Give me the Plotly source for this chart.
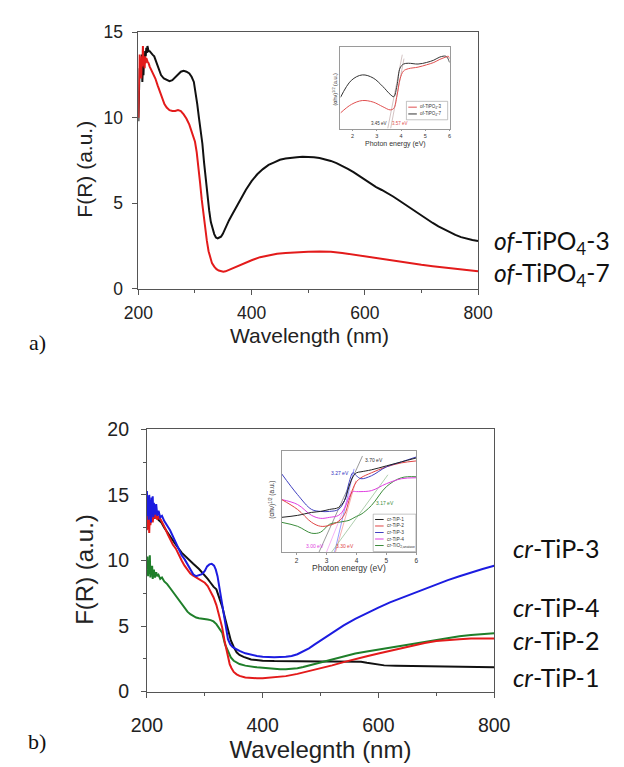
import plotly.graph_objects as go

W, H = 624, 767

# ---------------- panel a: of-TiPO4 (Kubelka-Munk) ----------------
wl_a3 = [200, 201, 202, 203, 204, 205, 206, 207, 208, 209, 210, 211, 212, 213, 214, 215, 216, 218, 220,
         222, 225, 228, 232, 236, 240, 245, 250, 255, 260, 265, 270, 275, 280, 285, 290, 294, 298, 301,
         304, 307, 310, 313, 316, 319, 322, 325, 328, 331, 334, 337, 340, 343, 346, 349, 352, 356, 360,
         365, 370, 380, 390, 400, 410, 420, 430, 440, 450, 460, 470, 480, 490, 500, 510, 520, 530, 540,
         550, 560, 570, 580, 590, 600, 610, 620, 630, 640, 650, 660, 670, 680, 690, 700, 710, 720, 730,
         740, 750, 760, 770, 780, 790, 800]
fr_a3 = [9.8, 11.9, 12.9, 12.4, 13.4, 12.6, 13.7, 12.1, 13.0, 12.5, 13.5, 13.2, 13.9, 13.6, 14.1, 13.8,
         14.2, 13.9, 13.9, 13.8, 13.7, 13.6, 13.2, 12.8, 12.5, 12.3, 12.2, 12.15, 12.2, 12.35, 12.55, 12.7,
         12.75, 12.7, 12.6, 12.4, 12.1, 11.5, 10.8, 10.0, 9.3, 8.5, 7.4, 6.4, 5.5, 4.6, 3.9, 3.5, 3.2, 3.0,
         2.95, 3.0, 3.05, 3.2, 3.45, 3.7, 4.0, 4.3, 4.6, 5.2, 5.8, 6.3, 6.7, 7.0, 7.25, 7.4, 7.55, 7.62,
         7.68, 7.7, 7.72, 7.72, 7.7, 7.65, 7.58, 7.48, 7.35, 7.2, 7.02, 6.82, 6.6, 6.38, 6.15, 5.95, 5.78,
         5.6, 5.4, 5.18, 4.95, 4.72, 4.5, 4.28, 4.06, 3.85, 3.65, 3.47, 3.3, 3.15, 3.02, 2.92, 2.85, 2.8]

wl_a7 = [200, 201, 202, 203, 204, 205, 206, 207, 208, 209, 210, 211, 212, 213, 214, 216, 218, 220, 223,
         226, 230, 234, 238, 242, 246, 250, 255, 260, 265, 270, 275, 280, 285, 290, 294, 297, 300, 303,
         306, 309, 312, 315, 318, 321, 324, 327, 330, 334, 338, 342, 346, 350, 354, 358, 365, 375, 385,
         400, 415, 430, 445, 460, 480, 500, 520, 540, 560, 580, 600, 620, 640, 660, 680, 700, 720, 740,
         760, 780, 800]
fr_a7 = [10.0, 12.3, 13.7, 12.6, 13.2, 12.3, 13.6, 13.0, 14.2, 13.1, 13.5, 12.9, 13.6, 13.2, 13.5, 13.3,
         13.2, 13.0, 12.8, 12.6, 12.3, 11.9, 11.5, 11.1, 10.8, 10.6, 10.45, 10.4, 10.4, 10.45, 10.4, 10.2,
         9.95, 9.6, 9.2, 8.9, 8.6, 8.0, 7.2, 6.2, 5.2, 4.3, 3.5, 2.8, 2.2, 1.8, 1.5, 1.3, 1.15, 1.07, 1.02,
         1.0, 1.02, 1.08, 1.18, 1.32, 1.47, 1.67, 1.85, 1.97, 2.05, 2.1, 2.15, 2.17, 2.18, 2.17, 2.1, 2.0,
         1.88, 1.76, 1.66, 1.57, 1.48, 1.4, 1.32, 1.24, 1.16, 1.08, 1.02]

# Tauc plot (inset a)
ev_a = [1.5, 1.95, 2.4, 2.85, 3.25, 3.55, 3.7, 3.83, 3.96, 4.1, 4.3, 4.7, 5.05, 5.35, 5.6, 5.85, 5.95, 6.0]
tauc_a3 = [0.20, 0.31, 0.36, 0.34, 0.28, 0.24, 0.26, 0.42, 0.64, 0.74, 0.77, 0.79, 0.82, 0.85, 0.89, 0.92, 0.93, 0.90]
tauc_a7 = [0.40, 0.62, 0.69, 0.65, 0.54, 0.44, 0.41, 0.55, 0.78, 0.83, 0.84, 0.83, 0.85, 0.88, 0.92, 0.93, 0.89, 0.85]
gap_a = [3.45, 3.57]
fit_a_top = [(4.05, 0.95), (4.12, 0.90)]

# ---------------- panel b: cr-TiP samples ----------------
wl_b1 = [200, 202, 204, 206, 208, 210, 213, 216, 220, 225, 230, 240, 250, 260, 270, 280, 290, 300, 305,
         310, 315, 320, 325, 330, 335, 340, 345, 350, 355, 360, 367, 380, 400, 420, 450, 480, 500, 520,
         540, 560, 570, 580, 590, 600, 610, 630, 650, 670, 700, 730, 760, 800]
fr_b1 = [13.0, 13.6, 13.1, 13.8, 13.3, 13.6, 13.2, 13.4, 13.1, 12.9, 12.5, 11.8, 11.2, 10.6, 10.15, 9.75,
         9.35, 8.9, 8.6, 8.3, 8.0, 7.8, 7.2, 6.5, 5.6, 4.7, 3.9, 3.4, 3.0, 2.8, 2.65, 2.45, 2.36, 2.33,
         2.3, 2.3, 2.3, 2.3, 2.3, 2.3, 2.28, 2.2, 2.12, 2.05, 2.0, 1.98, 1.96, 1.93, 1.93, 1.91, 1.89, 1.85]

wl_b2 = [200, 201, 202, 203, 204, 205, 206, 208, 210, 212, 214, 216, 218, 220, 224, 228, 232, 236, 240,
         245, 250, 255, 260, 265, 270, 275, 280, 285, 290, 295, 300, 305, 310, 315, 320, 325, 330, 334,
         337, 340, 343, 346, 350, 355, 360, 370, 380, 390, 400, 420, 440, 460, 480, 500, 520, 540, 560,
         580, 600, 620, 640, 660, 680, 700, 720, 740, 760, 780, 800]
fr_b2 = [12.3, 13.7, 12.4, 13.4, 12.1, 13.6, 12.7, 13.5, 12.9, 13.7, 13.2, 13.6, 13.1, 13.4, 13.1, 12.8,
         12.4, 12.0, 11.6, 11.2, 10.9, 10.4, 10.0, 9.6, 9.25, 9.0, 8.85, 8.7, 8.6, 8.45, 8.3, 8.05, 7.6,
         7.2, 6.6, 5.8, 4.9, 3.9, 3.3, 2.6, 2.1, 1.8, 1.5, 1.32, 1.2, 1.08, 1.04, 1.02, 1.02, 1.08, 1.18,
         1.35, 1.55, 1.78, 2.0, 2.25, 2.5, 2.7, 2.9, 3.1, 3.35, 3.55, 3.7, 3.85, 3.95, 4.0, 4.05, 4.05, 4.05]

wl_b3 = [200, 201, 202, 203, 204, 205, 206, 207, 208, 209, 210, 211, 212, 214, 216, 218, 220, 223, 226,
         230, 240, 250, 260, 265, 270, 275, 280, 285, 290, 295, 300, 304, 308, 312, 316, 319, 322, 325,
         328, 331, 334, 337, 340, 344, 348, 352, 360, 370, 380, 390, 400, 420, 440, 450, 460, 470, 480,
         490, 500, 520, 540, 560, 580, 600, 620, 640, 660, 680, 700, 720, 740, 760, 780, 800]
fr_b3 = [15.3, 13.4, 14.9, 13.1, 15.0, 13.7, 14.6, 12.9, 14.8, 13.5, 14.9, 13.3, 14.4, 13.5, 14.3, 13.4,
         13.8, 13.3, 13.4, 13.0, 12.3, 11.3, 10.4, 10.1, 9.75, 9.3, 8.95, 8.8, 8.85, 8.95, 9.2, 9.55, 9.7,
         9.75, 9.6, 9.3, 8.8, 8.0, 7.1, 6.2, 5.3, 4.6, 4.0, 3.6, 3.4, 3.3, 3.1, 2.92, 2.8, 2.72, 2.66, 2.62,
         2.65, 2.72, 2.85, 3.05, 3.3, 3.6, 3.9, 4.5, 5.05, 5.55, 6.0, 6.4, 6.8, 7.15, 7.5, 7.85, 8.2, 8.5,
         8.8, 9.1, 9.35, 9.6]

wl_bt = [200, 201, 202, 203, 204, 205, 206, 207, 208, 209, 210, 212, 214, 216, 218, 220, 223, 226, 230,
         235, 240, 245, 250, 255, 260, 265, 270, 275, 280, 285, 290, 295, 300, 305, 310, 315, 320, 325,
         330, 335, 340, 345, 350, 355, 360, 370, 380, 390, 400, 410, 420, 430, 440, 450, 460, 470, 480,
         490, 500, 520, 540, 560, 580, 600, 620, 640, 660, 680, 700, 720, 740, 760, 780, 800]
fr_bt = [9.3, 10.3, 8.8, 9.9, 9.0, 10.4, 8.7, 9.5, 8.9, 9.6, 8.6, 9.3, 8.7, 9.1, 8.8, 8.9, 8.6, 8.7, 8.4,
         8.2, 7.9, 7.6, 7.3, 7.0, 6.7, 6.4, 6.1, 5.9, 5.75, 5.65, 5.6, 5.58, 5.55, 5.5, 5.45, 5.35, 5.15,
         4.8, 4.5, 3.6, 3.1, 2.6, 2.35, 2.2, 2.1, 1.98, 1.9, 1.85, 1.82, 1.77, 1.72, 1.7, 1.7, 1.72, 1.78,
         1.87, 1.98, 2.1, 2.22, 2.45, 2.68, 2.9, 3.05, 3.2, 3.3, 3.5, 3.65, 3.8, 3.95, 4.1, 4.22, 4.32,
         4.4, 4.45]

# Tauc plot (inset b)
ev_b = [1.5, 2.03, 2.5, 2.8, 3.1, 3.4, 3.6, 3.75, 3.88, 4.0, 4.15, 4.5, 5.0, 5.5, 6.0]
tauc_b1 = [0.35, 0.37, 0.40, 0.41, 0.43, 0.45, 0.52, 0.66, 0.76, 0.80, 0.81, 0.83, 0.87, 0.91, 0.95]
tauc_b2 = [0.53, 0.43, 0.30, 0.26, 0.27, 0.31, 0.38, 0.52, 0.64, 0.71, 0.75, 0.80, 0.86, 0.90, 0.92]
tauc_b3 = [0.79, 0.58, 0.43, 0.41, 0.41, 0.43, 0.52, 0.70, 0.80, 0.77, 0.74, 0.77, 0.86, 0.91, 0.96]
tauc_b4 = [0.53, 0.48, 0.37, 0.34, 0.35, 0.37, 0.44, 0.55, 0.61, 0.61, 0.61, 0.62, 0.69, 0.74, 0.75]
tauc_bt = [0.30, 0.26, 0.19, 0.20, 0.28, 0.30, 0.31, 0.32, 0.34, 0.36, 0.38, 0.47, 0.66, 0.75, 0.76]
fit_b = [  # (intercept eV, top eV, top value, colour)
    (2.75, 4.2, 0.97, "#808080"),
    (3.27, 3.92, 0.84, "#7f7fff"),
    (3.00, 3.82, 0.62, "#f2a0f2"),
    (3.30, 3.98, 0.72, "#f29a9a"),
    (3.17, 5.05, 0.78, "#99c299"),
]

RED, BLACK, BLUE, GREEN, MAGENTA = "#e31b1b", "#111111", "#1c1ce0", "#1f7f2a", "#e040e0"
AX = "#555555"
SANS = "Liberation Sans, Arial, sans-serif"
SERIF = "Liberation Serif, Times New Roman, serif"
LABEL = "Lato, Carlito, sans-serif"


def fx(p):
    return p / W


def fy(p):
    return 1 - p / H


fig = go.Figure()

# main curves, panel a
fig.add_trace(go.Scatter(x=wl_a3, y=fr_a3, mode="lines", line=dict(color=BLACK, width=2),
                         xaxis="x", yaxis="y", showlegend=False))
fig.add_trace(go.Scatter(x=wl_a7, y=fr_a7, mode="lines", line=dict(color=RED, width=2),
                         xaxis="x", yaxis="y", showlegend=False))

# inset a
for g, (tx, ty) in zip(gap_a, fit_a_top):
    fig.add_trace(go.Scatter(x=[g, tx], y=[0, ty], mode="lines", line=dict(color="#c8b4b4", width=0.8),
                             xaxis="x2", yaxis="y2", showlegend=False))
fig.add_trace(go.Scatter(x=ev_a, y=tauc_a7, mode="lines", line=dict(color="#333333", width=1, shape="spline"),
                         xaxis="x2", yaxis="y2", showlegend=False))
fig.add_trace(go.Scatter(x=ev_a, y=tauc_a3, mode="lines", line=dict(color="#e05050", width=1, shape="spline"),
                         xaxis="x2", yaxis="y2", showlegend=False))

# main curves, panel b
for wl, fr, c in [(wl_b1, fr_b1, BLACK), (wl_bt, fr_bt, GREEN), (wl_b2, fr_b2, RED), (wl_b3, fr_b3, BLUE)]:
    fig.add_trace(go.Scatter(x=wl, y=fr, mode="lines", line=dict(color=c, width=2),
                             xaxis="x3", yaxis="y3", showlegend=False))

# inset b
for g, tx, ty, c in fit_b:
    fig.add_trace(go.Scatter(x=[g, tx], y=[0, ty], mode="lines", line=dict(color=c, width=0.8),
                             xaxis="x4", yaxis="y4", showlegend=False))
for vals, c in [(tauc_bt, "#3c8c3c"), (tauc_b4, MAGENTA), (tauc_b2, "#e04545"), (tauc_b3, "#4040c0"),
                (tauc_b1, "#222222")]:
    fig.add_trace(go.Scatter(x=ev_b, y=vals, mode="lines", line=dict(color=c, width=1, shape="spline"),
                             xaxis="x4", yaxis="y4", showlegend=False))

tickfont_a = dict(family=SANS, size=17.5, color="#222")
tickfont_b = dict(family=SANS, size=19.5, color="#222")
main_common = dict(showline=True, mirror=True, linecolor=AX, linewidth=1, ticks="outside",
                   tickcolor=AX, ticklen=5, showgrid=False, zeroline=False)
inset_common = dict(showline=True, mirror=True, linecolor="#9a9a9a", linewidth=0.8, showgrid=False,
                    zeroline=False)

fig.update_layout(
    width=W, height=H, margin=dict(l=0, r=0, t=0, b=0),
    paper_bgcolor="white", plot_bgcolor="white",
    xaxis=dict(domain=[fx(129), fx(487)], anchor="y", range=[200, 800], tickvals=[200, 400, 600, 800],
               minor=dict(ticks="outside", ticklen=3, tickvals=[300, 500, 700], tickcolor=AX),
               ticklabelstandoff=3, tickfont=tickfont_a, **main_common),
    yaxis=dict(domain=[fy(286), fy(22)], anchor="x", range=[0, 15], tickvals=[0, 5, 10, 15],
               ticklabelstandoff=6, tickfont=tickfont_a, **main_common),
    xaxis2=dict(domain=[fx(342), fx(457)], anchor="y2", range=[1.5, 6], tickvals=[2, 3, 4, 5, 6],
                ticks="outside", ticklen=2, tickcolor="#9a9a9a",
                tickfont=dict(family=SANS, size=5.5, color="#333"), **inset_common),
    yaxis2=dict(domain=[fy(121), fy(37)], anchor="x2", range=[0, 1.05], showticklabels=False,
                **inset_common),
    xaxis3=dict(domain=[fx(138), fx(504)], anchor="y3", range=[200, 800], tickvals=[200, 400, 600, 800],
                minor=dict(ticks="outside", ticklen=3, tickvals=[300, 500, 700], tickcolor=AX),
                ticklabelstandoff=11, tickfont=tickfont_b,
                title=dict(text="Wavelegnth (nm)", font=dict(family=SANS, size=24, color="#222"), standoff=2),
                **main_common),
    yaxis3=dict(domain=[fy(700.7), fy(430.7)], anchor="x3", range=[0, 20], tickvals=[0, 5, 10, 15, 20],
                minor=dict(ticks="outside", ticklen=3, tickvals=[2.5, 7.5, 12.5, 17.5], tickcolor=AX),
                ticklabelstandoff=8, tickfont=tickfont_b, **main_common),
    xaxis4=dict(domain=[fx(280), fx(422)], anchor="y4", range=[1.5, 6], tickvals=[2, 3, 4, 5, 6],
                ticks="outside", ticklen=2, tickcolor="#9a9a9a",
                tickfont=dict(family=SANS, size=6.5, color="#333"), **inset_common),
    yaxis4=dict(domain=[fy(557), fy(453)], anchor="x4", range=[0, 1.02], showticklabels=False,
                **inset_common),
)

ann = []


def text(x, y, s, size, family=SANS, color="#222", angle=0, xanchor="center", yanchor="middle",
         ref="paper", xr=None, yr=None):
    d = dict(text=s, showarrow=False, font=dict(family=family, size=size, color=color), textangle=angle,
             xanchor=xanchor, yanchor=yanchor)
    if ref == "paper":
        d.update(x=fx(x), y=fy(y), xref="paper", yref="paper")
    else:
        d.update(x=x, y=y, xref=xr, yref=yr)
    ann.append(d)


# axis titles and panel letters
text(72, 163, "F(R) (a.u.)", 21, angle=-90)
text(309, 334, "Wavelength (nm)", 21)
text(23, 341, "a)", 22, family=SERIF, color="#111")
text(72, 575, "F(R) (a.u.)", 24, angle=-90)
text(22, 752, "b)", 22, family=SERIF, color="#111")

# sample labels at the right
text(502, 238, "<i>of</i>-TiPO<sub>4</sub>-3", 24.5, family=LABEL, color="#111", xanchor="left")
text(502, 271, "<i>of</i>-TiPO<sub>4</sub>-7", 24.5, family=LABEL, color="#111", xanchor="left")
text(522, 553, "<i>cr</i>-TiP-3", 25, family=LABEL, color="#111", xanchor="left")
text(522, 614, "<i>cr</i>-TiP-4", 25, family=LABEL, color="#111", xanchor="left")
text(522, 648, "<i>cr</i>-TiP-2", 25, family=LABEL, color="#111", xanchor="left")
text(522, 686, "<i>cr</i>-TiP-1", 25, family=LABEL, color="#111", xanchor="left")

# inset a texts
text(336, 80, "(αhν)<sup>1/2</sup> (a.u.)", 5.5, angle=-90, color="#333")
text(400, 137, "Photon energy (eV)", 7, color="#333")
text(3.1, 0.07, "3.45 eV", 4.5, color="#333", ref="data", xr="x2", yr="y2")
text(3.95, 0.07, "3.57 eV", 4.5, color="#e05050", ref="data", xr="x2", yr="y2")

# inset b texts
text(270, 503, "(αhν)<sup>1/2</sup> (a.u.)", 6.5, angle=-90, color="#333")
text(351, 573, "Photon energy (eV)", 8.5, color="#333")
text(4.6, 0.93, "3.70 eV", 5, color="#333", ref="data", xr="x4", yr="y4")
text(3.45, 0.80, "3.27 eV", 5, color="#3030c0", ref="data", xr="x4", yr="y4")
text(4.95, 0.50, "3.17 eV", 5, color="#3c8c3c", ref="data", xr="x4", yr="y4")
text(2.62, 0.06, "3.00 eV", 5, color=MAGENTA, ref="data", xr="x4", yr="y4")
text(3.62, 0.06, "3.30 eV", 5, color="#e04545", ref="data", xr="x4", yr="y4")

shapes = []


def legend_box(x0, y0, x1, y1, rows, size):
    shapes.append(dict(type="rect", xref="paper", yref="paper", x0=fx(x0), x1=fx(x1), y0=fy(y1), y1=fy(y0),
                       line=dict(color="#9a9a9a", width=0.6), fillcolor="white"))
    for (ry, label, c) in rows:
        shapes.append(dict(type="line", xref="paper", yref="paper", x0=fx(x0 + 2), x1=fx(x0 + 11),
                           y0=fy(ry), y1=fy(ry), line=dict(color=c, width=1)))
        text(x0 + 12.5, ry, label, size, color="#333", xanchor="left")


legend_box(411.5, 93, 455, 112, [(99, "of-TiPO<sub>4</sub>-3", "#e05050"),
                                 (106, "of-TiPO<sub>4</sub>-7", "#333333")], 4.5)
legend_box(376.5, 518, 421.5, 556.5, [(523.5, "cr-TiP-1", "#222222"), (530.2, "cr-TiP-2", "#e04545"),
                                      (536.9, "cr-TiP-3", "#4040c0"), (543.6, "cr-TiP-4", MAGENTA),
                                      (550.3, "cr-TiO<sub>2,anatase</sub>", "#3c8c3c")], 4.8)

fig.update_layout(annotations=ann, shapes=shapes)
fig.write_html("out.html")
